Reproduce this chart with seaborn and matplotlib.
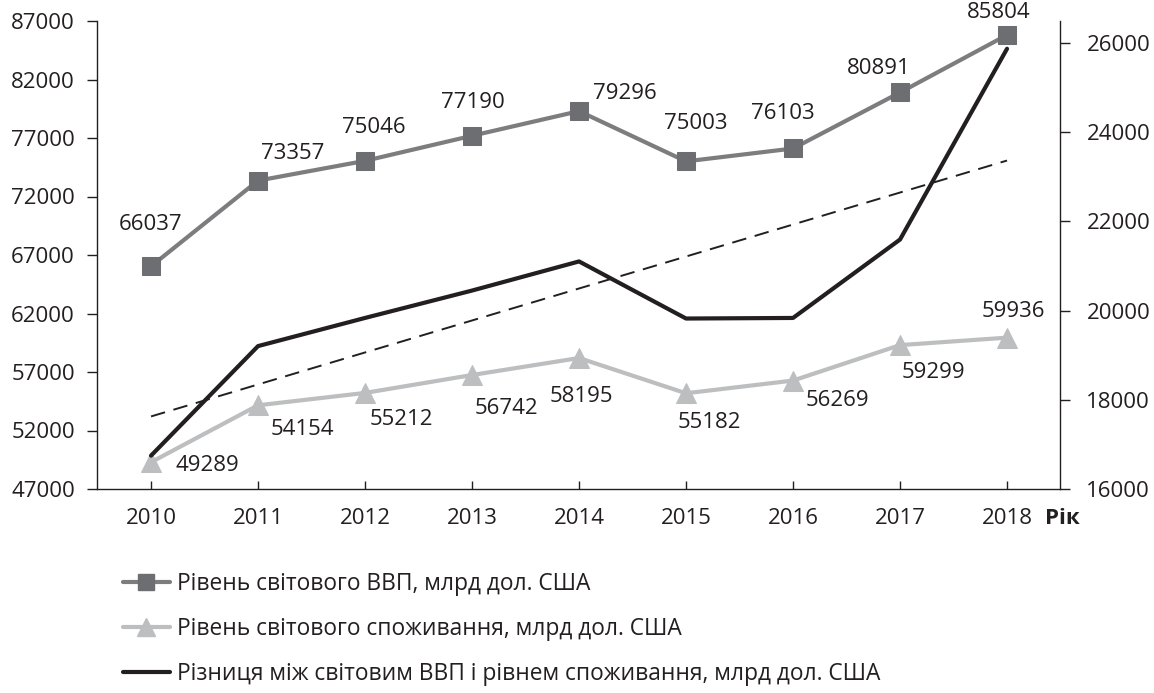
import numpy as np
import pandas as pd
import matplotlib
matplotlib.use("Agg")
import matplotlib.pyplot as plt
import seaborn as sns

years = [2010, 2011, 2012, 2013, 2014, 2015, 2016, 2017, 2018]
gdp = [66037, 73357, 75046, 77190, 79296, 75003, 76103, 80891, 85804]
consumption = [49289, 54154, 55212, 56742, 58195, 55182, 56269, 59299, 59936]
labels = ["Рівень світового ВВП, млрд дол. США",
          "Рівень світового споживання, млрд дол. США",
          "Різниця між світовим ВВП і рівнем споживання, млрд дол. США"]
left_ticks = [47000, 52000, 57000, 62000, 67000, 72000, 77000, 82000, 87000]
right_ticks = [16000, 18000, 20000, 22000, 24000, 26000]

df = pd.DataFrame({"year": years, "gdp": gdp, "cons": consumption})
df["diff"] = df["gdp"] - df["cons"]

sns.set_theme(style="white")
plt.rcParams['font.family'] = ['Open Sans', 'DejaVu Sans']
TXT = "#231f20"
plt.rcParams['text.color'] = TXT

W, H = 1154, 693
fig = plt.figure(figsize=(W / 100, H / 100), dpi=100)
ax = fig.add_axes([97 / W, 1 - 489 / H, (1060 - 97) / W, (489 - 21) / H])
ax2 = ax.twinx()

c_gdp_line = "#7d7d80"
c_gdp_mark = "#6d6e71"
c_cons = "#bcbec0"

sns.lineplot(data=df, x="year", y="gdp", ax=ax, color=c_gdp_line, lw=3.0,
             marker="s", markersize=13, markerfacecolor=c_gdp_mark,
             markeredgecolor=c_gdp_mark, zorder=3)
sns.lineplot(data=df, x="year", y="cons", ax=ax, color=c_cons, lw=3.0,
             marker="^", markersize=14, markerfacecolor=c_cons,
             markeredgecolor=c_cons, zorder=3)
sns.lineplot(data=df, x="year", y="diff", ax=ax2, color=TXT, lw=3.0, zorder=3)
sns.regplot(data=df, x="year", y="diff", ax=ax2, scatter=False, ci=None,
            line_kws=dict(color=TXT, lw=1.4, ls=(0, (7.5, 4.5))))

ax.set_xlim(2010 - 0.505, 2018 + 0.495)
ax.set_ylim(47000, 87000)
ax2.set_ylim(16000, 26490)
ax.set_yticks(left_ticks)
ax2.set_yticks(right_ticks)
ax.set_xticks(years)
ax.set_xticklabels([str(y) for y in years])
for a in (ax, ax2):
    a.set_xlabel("")
    a.set_ylabel("")

for a in (ax, ax2):
    for s in a.spines.values():
        s.set_color(TXT)
        s.set_linewidth(1.0)
    a.spines["top"].set_visible(False)
ax.spines["right"].set_visible(False)
ax2.spines["left"].set_visible(False)
ax2.spines["bottom"].set_visible(False)

ax.tick_params(axis="y", direction="out", length=7, width=1, color=TXT,
               labelsize=16, pad=9, labelcolor=TXT, left=True)
ax.tick_params(axis="x", direction="in", length=6, width=1, color=TXT,
               labelsize=16, pad=14, labelcolor=TXT, bottom=True)
ax2.tick_params(axis="y", direction="out", length=7, width=1, color=TXT,
                labelsize=16, pad=12, labelcolor=TXT, right=True)

ax.text((1045 - 97) / (1060 - 97), -30 / 468, "Рік", transform=ax.transAxes,
        fontsize=16, fontweight="bold", ha="left", va="center", color=TXT)

# data label offsets (pixels: right, up)
gdp_off = [(0, 42), (35, 27), (9, 33), (1, 33), (46, 18), (10, 38), (-10, 35), (-21, 24), (-8, 22)]
cons_off = [(56, -3), (44, -24), (36, -27), (34, -33), (2, -38), (23, -29), (44, -20), (33, -27), (6, 26)]
for x, y, (dx, dy) in zip(years, gdp, gdp_off):
    ax.annotate(str(y), (x, y), xytext=(dx * 0.72, dy * 0.72), textcoords="offset points",
                ha="center", va="center", fontsize=16, color=TXT)
for x, y, (dx, dy) in zip(years, consumption, cons_off):
    ax.annotate(str(y), (x, y), xytext=(dx * 0.72, dy * 0.72), textcoords="offset points",
                ha="center", va="center", fontsize=16, color=TXT)

handles = [
    plt.Line2D([], [], color=c_gdp_line, lw=3.0, marker="s", markersize=12,
               markerfacecolor=c_gdp_mark, markeredgecolor=c_gdp_mark),
    plt.Line2D([], [], color=c_cons, lw=3.0, marker="^", markersize=13,
               markerfacecolor=c_cons, markeredgecolor=c_cons),
    plt.Line2D([], [], color=TXT, lw=3.0),
]
fig.legend(handles, labels, loc="upper left", bbox_to_anchor=(123 / W, 1 - 572 / H),
           frameon=False, fontsize=16.4, handlelength=2.05, handletextpad=0.3,
           labelspacing=0.93, borderpad=0, borderaxespad=0)

fig.savefig("out.png", dpi=100)
